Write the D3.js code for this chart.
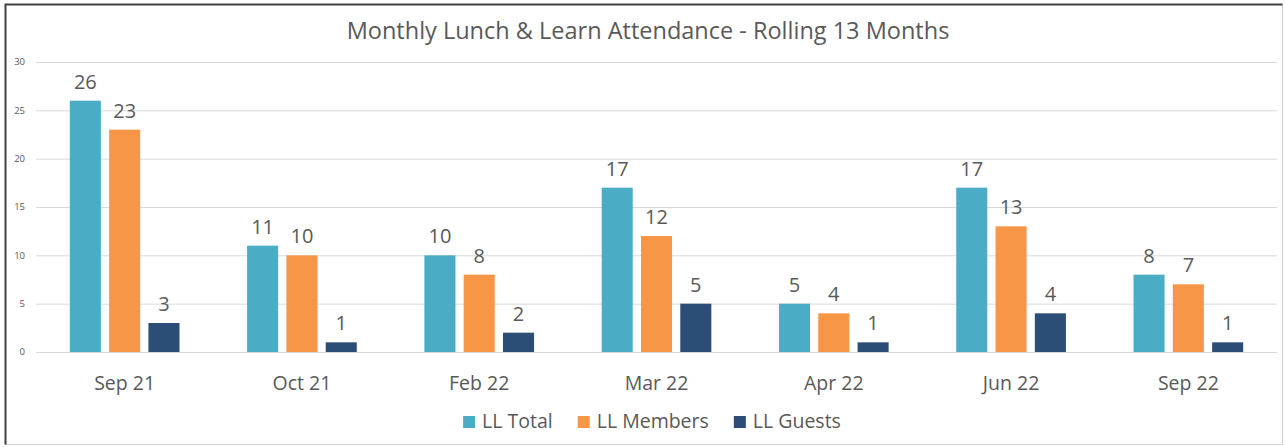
<!DOCTYPE html>
<html>
<head>
<meta charset="utf-8">
<script src="https://cdn.jsdelivr.net/npm/d3@7"></script>
<style>
  body { margin: 0; background: #fff; }
  text { font-family: "Open Sans", Lato, sans-serif; fill: #595959; }
</style>
</head>
<body>
<script>
var categories = ["Sep 21", "Oct 21", "Feb 22", "Mar 22", "Apr 22", "Jun 22", "Sep 22"];
var seriesNames = ["LL Total", "LL Members", "LL Guests"];
var llTotal = [26, 11, 10, 17, 5, 17, 8];
var llMembers = [23, 10, 8, 12, 4, 13, 7];
var llGuests = [3, 1, 2, 5, 1, 4, 1];
var yTicks = [0, 5, 10, 15, 20, 25, 30];
var colors = ["#4bacc6", "#f79646", "#2c4d75"];

var W = 1285, H = 447;
var margin = {top: 62, right: 8, bottom: 95, left: 36};

var svg = d3.select("body").append("svg")
  .attr("width", W)
  .attr("height", H);

// chart frame
svg.append("rect").attr("x", 5.5).attr("y", 4.5).attr("width", 1277).attr("height", 440)
  .attr("fill", "#fff").attr("stroke", "#d0d0d0");
svg.append("path").attr("d", "M5.5,444.5V4.5H1282.5").attr("fill", "none")
  .attr("stroke", "#404040").attr("stroke-width", 2);

var data = categories.map(function(c, i) {
  return {cat: c, values: [llTotal[i], llMembers[i], llGuests[i]]};
});

var x0 = d3.scaleBand()
  .domain(categories)
  .range([margin.left, W - margin.right])
  .padding(0);

var x1 = d3.scaleBand()
  .domain(seriesNames)
  .range([0, x0.bandwidth()])
  .paddingInner(0.21)
  .paddingOuter(0.86);

var y = d3.scaleLinear()
  .domain([0, 30])
  .range([H - margin.bottom, margin.top]);

// gridlines
var grid = svg.append("g")
  .attr("transform", "translate(" + margin.left + ",0)")
  .call(d3.axisLeft(y).tickValues(yTicks).tickSize(-(W - margin.left - margin.right)).tickFormat(""));
grid.select(".domain").remove();
grid.selectAll("line").attr("stroke", "#d9d9d9");

// y tick labels
svg.append("g").selectAll("text")
  .data(yTicks)
  .enter().append("text")
  .attr("x", 25)
  .attr("y", function(d) { return y(d); })
  .attr("dy", "0.35em")
  .attr("text-anchor", "end")
  .attr("font-size", "9.5px")
  .text(function(d) { return d; });

// bars
var groups = svg.selectAll(".grp")
  .data(data)
  .enter().append("g")
  .attr("class", "grp")
  .attr("transform", function(d) { return "translate(" + x0(d.cat) + ",0)"; });

groups.selectAll("rect")
  .data(function(d) { return d.values.map(function(v, i) { return {name: seriesNames[i], v: v, i: i}; }); })
  .enter().append("rect")
  .attr("x", function(d) { return x1(d.name); })
  .attr("y", function(d) { return y(d.v); })
  .attr("width", x1.bandwidth())
  .attr("height", function(d) { return y(0) - y(d.v); })
  .attr("fill", function(d) { return colors[d.i]; });

groups.selectAll(".lbl")
  .data(function(d) { return d.values.map(function(v, i) { return {name: seriesNames[i], v: v}; }); })
  .enter().append("text")
  .attr("class", "lbl")
  .attr("x", function(d) { return x1(d.name) + x1.bandwidth() / 2; })
  .attr("y", function(d) { return y(d.v) - 12; })
  .attr("text-anchor", "middle")
  .attr("font-size", "20px")
  .text(function(d) { return d.v; });

// category labels
svg.append("g").selectAll("text")
  .data(categories)
  .enter().append("text")
  .attr("x", function(d) { return x0(d) + x0.bandwidth() / 2; })
  .attr("y", 390)
  .attr("text-anchor", "middle")
  .attr("font-size", "19.5px")
  .text(function(d) { return d; });

// title
svg.append("text")
  .attr("x", 648)
  .attr("y", 38.5)
  .attr("text-anchor", "middle")
  .attr("font-size", "23.5px")
  .text("Monthly Lunch & Learn Attendance - Rolling 13 Months");

// legend
var legend = svg.append("g");
var lx = 0;
seriesNames.forEach(function(name, i) {
  var item = legend.append("g").attr("transform", "translate(" + lx + ",0)");
  item.append("rect").attr("x", 0).attr("y", -12).attr("width", 12).attr("height", 12).attr("fill", colors[i]);
  var t = item.append("text").attr("x", 19).attr("y", 0).attr("font-size", "19.5px").text(name);
  lx += 19 + t.node().getComputedTextLength() + 25;
});
var lw = lx - 25;
legend.attr("transform", "translate(" + (652 - lw / 2) + ",428)");
</script>
</body>
</html>
